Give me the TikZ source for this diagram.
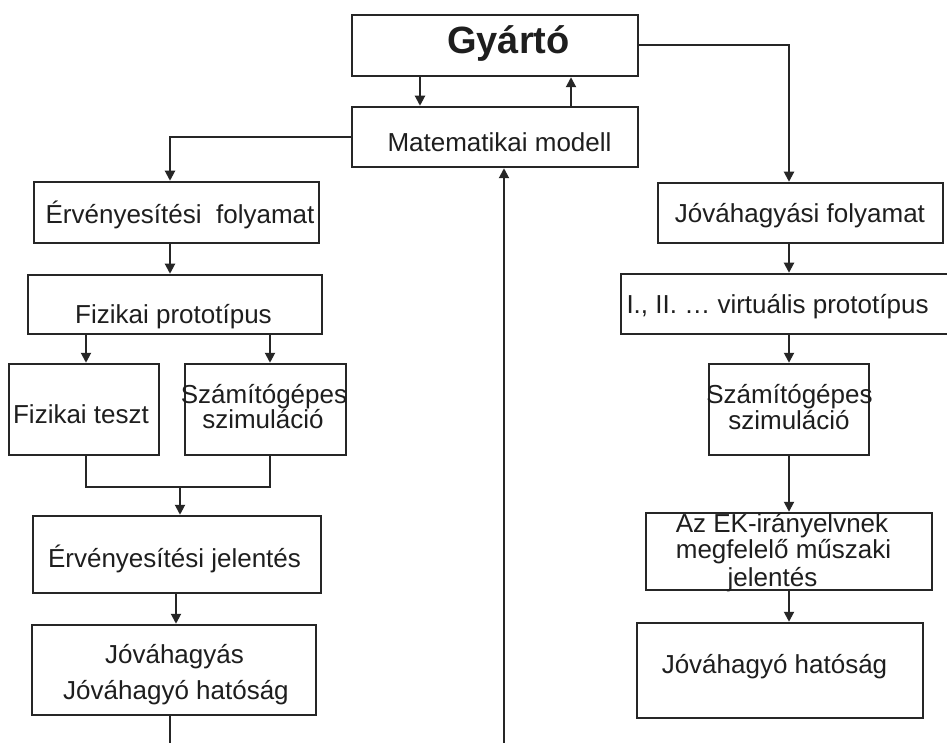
\documentclass[tikz,border=0pt]{standalone}
\usepackage{fontspec}
\setmainfont{Liberation Sans}
\usetikzlibrary{arrows.meta}
\definecolor{ink}{RGB}{38,38,38}
\definecolor{txtc}{RGB}{30,30,30}
\tikzset{
  box/.style={draw=ink, line width=2.5pt, inner sep=0pt, fill=white},
  txt/.style={anchor=base, inner sep=0pt, text=txtc, font=\fontsize{26}{30}\selectfont},
  ttl/.style={anchor=base, inner sep=0pt, text=txtc, font=\fontsize{38}{42}\selectfont\bfseries},
  ln/.style={draw=ink, line width=2pt},
  arr/.style={ln, -{Triangle[length=10pt,width=10pt]}}
}
\begin{document}
\begin{tikzpicture}[x=1pt,y=-1pt]
\useasboundingbox[fill=white] (0,0) rectangle (947,743);
% boxes
\node[box, minimum width=286, minimum height=61] (gy) at (495,45.5) {};
\node[box, minimum width=286, minimum height=60] (mm) at (495,137) {};
\node[box, minimum width=285, minimum height=61] (ef) at (176.5,212.5) {};
\node[box, minimum width=294, minimum height=59] (fp) at (175,304.5) {};
\node[box, minimum width=150, minimum height=91] (ft) at (84,409.5) {};
\node[box, minimum width=161, minimum height=91] (szl) at (265.5,409.5) {};
\node[box, minimum width=288, minimum height=77] (ej) at (177,554.5) {};
\node[box, minimum width=284, minimum height=90] (jv) at (174,670) {};
\node[box, minimum width=285, minimum height=60] (jf) at (800.5,213) {};
\node[box, minimum width=328, minimum height=60] (vp) at (785,304) {};
\node[box, minimum width=160, minimum height=91] (szr) at (789,409.5) {};
\node[box, minimum width=286, minimum height=77] (ek) at (789,551.5) {};
\node[box, minimum width=286, minimum height=95] (jh) at (780,670.5) {};
% texts
\node[ttl] (tgy) at (508.5,54) {Gyártó};
\node[txt] (tmm) at (499.5,152) {Matematikai modell};
\node[txt] (tef) at (180,224) {Érvényesítési~ folyamat};
\node[txt] (tfp) at (173.5,323) {Fizikai prototípus};
\node[txt] (tft) at (81,423) {Fizikai teszt};
\node[txt] (tszl1) at (264,403) {Számítógépes};
\node[txt] (tszl2) at (263,428) {szimuláció};
\node[txt] (tej) at (174.5,567) {Érvényesítési jelentés};
\node[txt] (tjv1) at (174.5,663) {Jóváhagyás};
\node[txt] (tjv2) at (176,699) {Jóváhagyó hatóság};
\node[txt] (tjf) at (800,223) {Jóváhagyási folyamat};
\node[txt] (tvp) at (777.5,313) {I., II. … virtuális prototípus};
\node[txt] (tszr1) at (789.5,403) {Számítógépes};
\node[txt] (tszr2) at (789,429) {szimuláció};
\node[txt] (tek1) at (782,532) {Az EK-irányelvnek};
\node[txt] (tek2) at (783.5,558) {megfelelő műszaki};
\node[txt] (tek3) at (772.5,586) {jelentés};
\node[txt] (tjh) at (774.5,673) {Jóváhagyó hatóság};
% helper coordinates
\coordinate (xa) at (420,0);
\coordinate (xb) at (571,0);
\coordinate (xr) at (789,0);
\coordinate (xl) at (170,0);
\coordinate (xft) at (86,0);
\coordinate (xsz) at (270,0);
\coordinate (xe) at (176,0);
\coordinate (jl) at (86,487);
\coordinate (jr) at (270,487);
\coordinate (jn) at (180,487);
\coordinate (bl) at (170,746);
\coordinate (bc) at (504,746);
% connectors
\draw[arr] (gy.south -| xa) -- (mm.north -| xa);
\draw[arr] (mm.north -| xb) -- (gy.south -| xb);
\draw[arr] (gy.east) -| (jf.north -| xr);
\draw[arr] (mm.west) -| (ef.north -| xl);
\draw[arr] (ef.south -| xl) -- (fp.north -| xl);
\draw[arr] (fp.south -| xft) -- (ft.north -| xft);
\draw[arr] (fp.south -| xsz) -- (szl.north -| xsz);
\draw[ln] (ft.south -| xft) -- (jl) -- (jr) -- (szl.south -| xsz);
\draw[arr] (jn) -- (ej.north -| jn);
\draw[arr] (ej.south -| xe) -- (jv.north -| xe);
\draw[ln] (jv.south -| xl) -- (bl);
\draw[arr] (bc) -- (mm.south -| bc);
\draw[arr] (jf.south -| xr) -- (vp.north -| xr);
\draw[arr] (vp.south -| xr) -- (szr.north -| xr);
\draw[arr] (szr.south -| xr) -- (ek.north -| xr);
\draw[arr] (ek.south -| xr) -- (jh.north -| xr);
\end{tikzpicture}
\end{document}
